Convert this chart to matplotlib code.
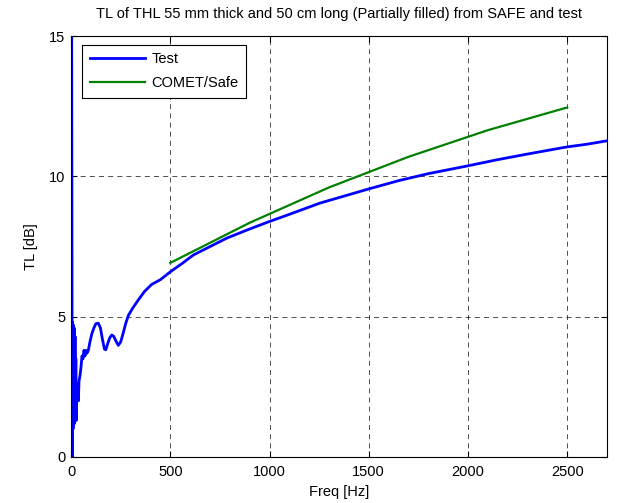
import matplotlib
matplotlib.use("Agg")
import matplotlib.pyplot as plt

plt.rcParams['font.family'] = ['Liberation Sans', 'DejaVu Sans']

test_freq = [3, 6, 8, 10, 12, 14, 16, 18, 20, 22, 24, 26, 28, 31, 34, 37, 40, 45, 50, 55,
             60, 65, 70, 75, 80, 87, 95, 105, 115, 125, 137, 148, 158, 168, 175, 185, 195,
             205, 215, 225, 238, 250, 262, 275, 289, 310, 339, 370, 406, 450, 500, 560,
             616, 700, 784, 890, 994, 1100, 1254, 1400, 1497, 1650, 1800, 1993, 2150,
             2300, 2496, 2600, 2700]
test_tl = [15.5, 0.0, 4.8, 1.0, 4.7, 1.5, 4.6, 1.2, 4.3, 1.5, 3.5, 1.3, 2.6, 2.0, 2.4, 2.0,
           2.7, 2.9, 3.2, 3.6, 3.5, 3.8, 3.6, 3.8, 3.7, 3.8, 4.1, 4.4, 4.6, 4.75, 4.77, 4.6,
           4.2, 3.85, 3.82, 4.05, 4.25, 4.35, 4.3, 4.15, 3.98, 4.1, 4.4, 4.75, 5.05, 5.3,
           5.6, 5.9, 6.15, 6.32, 6.6, 6.9, 7.2, 7.5, 7.8, 8.1, 8.38, 8.65, 9.05, 9.35, 9.55,
           9.85, 10.1, 10.37, 10.6, 10.8, 11.05, 11.15, 11.27]

safe_freq = [500, 900, 1300, 1700, 2100, 2500]
safe_tl = [6.92, 8.35, 9.61, 10.70, 11.65, 12.46]

xticks = [0, 500, 1000, 1500, 2000, 2500]
yticks = [0, 5, 10, 15]

FS = 10.5

fig = plt.figure(figsize=(6.18, 5.03), dpi=100)
ax = fig.add_axes([0.115, 0.0915, 0.867, 0.8365])

ax.plot(test_freq, test_tl, color='#0000ff', lw=2.0, label='Test')
ax.plot(safe_freq, safe_tl, color='#008000', lw=1.6, label='COMET/Safe')

ax.set_xlim(0, 2700)
ax.set_ylim(0, 15)
ax.set_xticks(xticks)
ax.set_yticks(yticks)
ax.tick_params(direction='in', top=True, right=True, labelsize=FS, length=4, width=0.8)
ax.tick_params(axis='x', pad=6)
ax.tick_params(axis='y', pad=4)
ax.grid(True, color='k', linestyle=(0, (6, 5)), lw=0.6, alpha=0.8)
for s in ax.spines.values():
    s.set_linewidth(0.8)

ax.set_xlabel('Freq [Hz]', fontsize=FS, labelpad=4)
ax.set_ylabel('TL [dB]', fontsize=FS, labelpad=8)
ax.set_title('TL of THL 55 mm thick and 50 cm long (Partially filled) from SAFE and test',
             fontsize=FS, pad=13)

leg = ax.legend(loc='upper left', fontsize=FS, fancybox=False, framealpha=1,
                edgecolor='k', borderpad=0.5, labelspacing=0.68, handlelength=3.8,
                handletextpad=0.45, borderaxespad=0.0, bbox_to_anchor=(0.021, 0.979))
leg.get_frame().set_linewidth(0.8)

fig.savefig('out.png', dpi=100)
